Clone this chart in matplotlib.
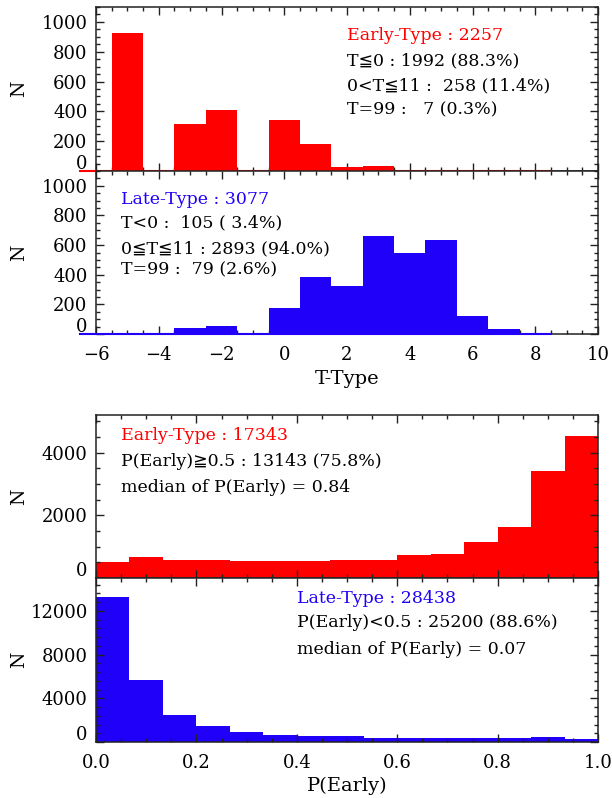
import numpy as np
import matplotlib
matplotlib.use('Agg')
import matplotlib.pyplot as plt
from matplotlib.ticker import MultipleLocator, FuncFormatter
from matplotlib.transforms import ScaledTranslation, blended_transform_factory

plt.rcParams['font.family'] = ['DejaVu Serif', 'DejaVu Sans']

RED = '#FF0000'
BLUE = '#2000F8'

# T-type histograms (bin centres, counts)
t_types = [-6, -5, -4, -3, -2, -1, 0, 1, 2, 3, 4, 5, 6, 7, 8]
early_t_counts = [0, 925, 0, 318, 408, 0, 341, 184, 30, 36, 4, 2, 1, 1, 0]
late_t_counts = [0, 10, 0, 38, 52, 5, 178, 382, 325, 660, 545, 637, 124, 34, 8]

# P(Early) histograms, 15 bins over [0, 1]
p_edges = np.linspace(0, 1, 16)
early_p_counts = [520, 680, 560, 560, 540, 530, 530, 560, 560, 720, 780, 1140, 1620, 3420, 4540]
late_p_counts = [13240, 5700, 2450, 1460, 870, 680, 590, 530, 400, 372, 372, 372, 372, 500, 310]

early_t_text = ['T≦0 : 1992 (88.3%)', '0<T≦11 :  258 (11.4%)', 'T=99 :   7 (0.3%)']
late_t_text = ['T<0 :  105 ( 3.4%)', '0≦T≦11 : 2893 (94.0%)', 'T=99 :  79 (2.6%)']
early_p_text = ['P(Early)≧0.5 : 13143 (75.8%)', 'median of P(Early) = 0.84']
late_p_text = ['P(Early)<0.5 : 25200 (88.6%)', 'median of P(Early) = 0.07']

fig = plt.figure(figsize=(6.12, 7.98), dpi=100)
W, H = 612, 798


def add_ax(top, bottom, left=96, right=598):
    return fig.add_axes([left / W, 1 - bottom / H, (right - left) / W, (bottom - top) / H])


ax1 = add_ax(7, 171)
ax2 = add_ax(171, 334)
ax3 = add_ax(415, 578)
ax4 = add_ax(578, 742)


def style(ax, xlim, ylim, xmaj, xmin, ymaj, ymin, xlabels):
    ax.set_xlim(*xlim)
    ax.set_ylim(*ylim)
    ax.xaxis.set_major_locator(MultipleLocator(xmaj))
    ax.xaxis.set_minor_locator(MultipleLocator(xmin))
    ax.yaxis.set_major_locator(MultipleLocator(ymaj))
    ax.yaxis.set_minor_locator(MultipleLocator(ymin))
    ax.tick_params(which='both', direction='in', top=True, right=True,
                   labelsize=13, width=1, color='#222222')
    ax.tick_params(which='major', length=6)
    ax.tick_params(which='minor', length=3)
    ax.tick_params(axis='y', pad=6)
    ax.tick_params(axis='x', pad=9, labelbottom=xlabels)
    ax.yaxis.set_major_formatter(FuncFormatter(lambda v, p: '' if v == 0 else f'{v:g}'))
    for s in ax.spines.values():
        s.set_linewidth(1.1)
        s.set_color('#222222')
    # the "0" label sits a little above its tick
    tr = blended_transform_factory(ax.transAxes, ax.transData) + \
        ScaledTranslation(-6 / 72, 5 / 72, fig.dpi_scale_trans)
    ax.text(0, 0, '0', transform=tr, ha='right', va='center', fontsize=13)
    ax.set_ylabel('N', fontsize=13.5)
    ax.yaxis.set_label_coords(-0.135, 0.5)


# T-type panels
ax1.bar(t_types, early_t_counts, width=1, color=RED, linewidth=0, zorder=2)
ax1.plot([t_types[0] - 0.5, t_types[-1] + 0.5], [0, 0], color=RED, lw=1.5, clip_on=False, zorder=3)
ax2.bar(t_types, late_t_counts, width=1, color=BLUE, linewidth=0, zorder=2)
ax2.plot([t_types[0] - 0.5, t_types[-1] + 0.5], [0, 0], color=BLUE, lw=1.5, clip_on=False, zorder=3)
style(ax1, (-6, 10), (0, 1100), 2, 0.5, 200, 50, False)
style(ax2, (-6, 10), (0, 1100), 2, 0.5, 200, 50, True)
ax2.set_xlabel('T-Type', fontsize=14, labelpad=4)

# P(Early) panels
ax3.bar(p_edges[:-1], early_p_counts, width=np.diff(p_edges), align='edge', color=RED, linewidth=0)
ax4.bar(p_edges[:-1], late_p_counts, width=np.diff(p_edges), align='edge', color=BLUE, linewidth=0)
style(ax3, (0, 1), (0, 5200), 0.2, 0.05, 2000, 500, False)
style(ax4, (0, 1), (0, 15000), 0.2, 0.05, 4000, 800, True)
ax4.xaxis.set_major_formatter(FuncFormatter(lambda v, p: f'{v:.1f}'))
ax4.set_xlabel('P(Early)', fontsize=14, labelpad=3)


def block(ax, x, ys, head, color, lines):
    ax.text(x, ys[0], head, color=color, transform=ax.transAxes, ha='left', va='center', fontsize=12.5)
    for y, s in zip(ys[1:], lines):
        ax.text(x, y, s, color='black', transform=ax.transAxes, ha='left', va='center', fontsize=12.5)


block(ax1, 0.5, [0.829, 0.671, 0.518, 0.372], 'Early-Type : 2257', RED, early_t_text)
block(ax2, 0.05, [0.828, 0.680, 0.521, 0.393], 'Late-Type : 3077', BLUE, late_t_text)
block(ax3, 0.05, [0.877, 0.712, 0.558], 'Early-Type : 17343', RED, early_p_text)
block(ax4, 0.40, [0.878, 0.726, 0.567], 'Late-Type : 28438', BLUE, late_p_text)

fig.savefig('out.png', dpi=100)
